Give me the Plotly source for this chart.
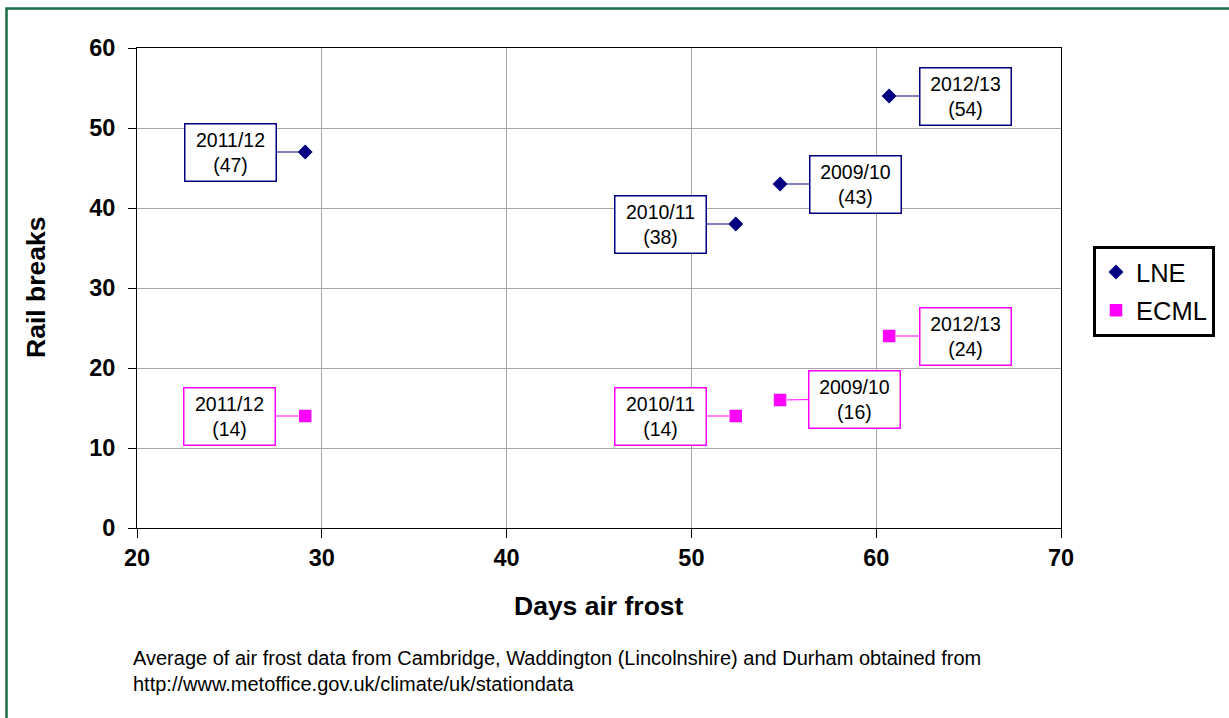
import plotly.graph_objects as go

# ---- data ----
seasons = ["2011/12", "2010/11", "2009/10", "2012/13"]
frost_days = [29.1, 52.4, 54.8, 60.7]
lne_breaks = [47, 38, 43, 54]
ecml_breaks = [14, 14, 16, 24]
x_ticks = [20, 30, 40, 50, 60, 70]
y_ticks = [0, 10, 20, 30, 40, 50, 60]

# label placement (pixel offsets of the label boxes) - style only
lne_offsets = [(-75, 0), (-75, 0), (75, 0), (76, 0)]
ecml_offsets = [(-76, 0), (-75, 0), (74, -1), (76, 0)]

NAVY = "#000080"
MAGENTA = "#FF00FF"
FONT = "Liberation Sans, Arial, sans-serif"

fig = go.Figure()
fig.add_trace(go.Scatter(
    x=frost_days, y=lne_breaks, mode="markers", name="LNE", legendgroup="a",
    marker=dict(symbol="diamond", size=11.5, color=NAVY, line=dict(width=0)),
))
fig.add_trace(go.Scatter(
    x=frost_days, y=ecml_breaks, mode="markers", name="ECML", legendgroup="b",
    marker=dict(symbol="square", size=12.5, color=MAGENTA, line=dict(width=0)),
))

annotations = []
for series, color, offs in [(lne_breaks, NAVY, lne_offsets), (ecml_breaks, MAGENTA, ecml_offsets)]:
    for s, fx, val, (ax, ay) in zip(seasons, frost_days, series, offs):
        annotations.append(dict(
            x=fx, y=val, xref="x", yref="y",
            text=f"{s}<br>({val})",
            showarrow=True, arrowhead=0, arrowwidth=1, arrowcolor=color,
            ax=ax, ay=ay, standoff=7,
            bordercolor=color, borderwidth=1.5, borderpad=1,
            bgcolor="white", width=88, height=54,
            font=dict(family=FONT, size=19.5, color="black"),
        ))

# axis titles
annotations.append(dict(
    text="Rail breaks", x=(36 - 137) / 924, y=0.5, xref="paper", yref="paper",
    showarrow=False, textangle=-90, xanchor="center", yanchor="middle",
    font=dict(family=FONT, size=26.5, color="black", weight="bold"),
))
annotations.append(dict(
    text="Days air frost", x=0.5, y=(528 - 606) / 480, xref="paper", yref="paper",
    showarrow=False, xanchor="center", yanchor="middle",
    font=dict(family=FONT, size=26.5, color="black", weight="bold"),
))
annotations.append(dict(
    text="Average of air frost data from Cambridge, Waddington (Lincolnshire) and Durham obtained from<br>"
         "http://www.metoffice.gov.uk/climate/uk/stationdata",
    x=(131 - 137) / 924, y=(528 - 645) / 480, xref="paper", yref="paper",
    showarrow=False, xanchor="left", yanchor="top", align="left",
    font=dict(family=FONT, size=20, color="black"),
))

# outer green border
shapes = [dict(
    type="rect", xref="paper", yref="paper",
    x0=(6.5 - 137) / 924, x1=(1240 - 137) / 924,
    y0=(528 - 730) / 480, y1=(528 - 8.5) / 480,
    line=dict(color="#1B6B47", width=2.5), fillcolor="rgba(0,0,0,0)", layer="below",
)]

fig.update_layout(
    width=1229, height=718,
    margin=dict(l=137, r=168, t=48, b=190),
    paper_bgcolor="white", plot_bgcolor="white",
    font=dict(family=FONT, color="black"),
    showlegend=True,
    legend=dict(
        x=(1093 - 137) / 924, y=(528 - 246) / 480, xanchor="left", yanchor="top",
        bordercolor="black", borderwidth=3, bgcolor="white",
        font=dict(family=FONT, size=25.5, color="black"),
        tracegroupgap=2,
    ),
    annotations=annotations,
    shapes=shapes,
    xaxis=dict(
        range=[20, 70], tickvals=x_ticks, ticktext=[str(v) for v in x_ticks],
        showgrid=True, gridcolor="#A6A6A6", gridwidth=1,
        showline=True, linecolor="black", linewidth=1, mirror=True,
        ticks="outside", ticklen=9, tickcolor="black",
        tickfont=dict(family=FONT, size=23.5, color="black", weight="bold"),
        zeroline=False,
    ),
    yaxis=dict(
        range=[0, 60], tickvals=y_ticks, ticktext=[str(v) for v in y_ticks],
        showgrid=True, gridcolor="#A6A6A6", gridwidth=1,
        showline=True, linecolor="black", linewidth=1, mirror=True,
        ticks="outside", ticklen=8, tickcolor="black", ticklabelstandoff=8,
        tickfont=dict(family=FONT, size=23.5, color="black", weight="bold"),
        zeroline=False,
    ),
)

fig.write_html("out.html")
